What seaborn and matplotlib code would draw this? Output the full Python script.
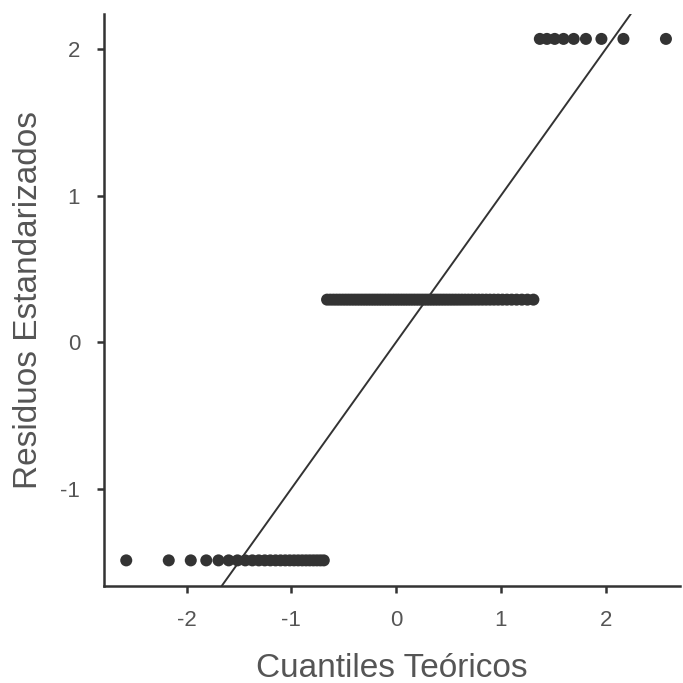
import numpy as np
import pandas as pd
import matplotlib
matplotlib.use("Agg")
import matplotlib.pyplot as plt
import seaborn as sns
from statistics import NormalDist

# Standardized residual levels and how many observations sit at each level
resid_levels = [-1.49, 0.29, 2.07]
resid_counts = [25, 66, 9]

residuals = np.sort(np.repeat(resid_levels, resid_counts))
n = len(residuals)
# theoretical normal quantiles (ppoints)
theo = [NormalDist().inv_cdf((i - 0.5) / n) for i in range(1, n + 1)]
df = pd.DataFrame({"theoretical": theo, "residuals": residuals})

x_ticks = [-2, -1, 0, 1, 2]
y_ticks = [-1, 0, 1, 2]

sns.set_theme(style="white")
plt.rcParams['font.family'] = ['Liberation Sans', 'DejaVu Sans']

fig = plt.figure(figsize=(6.83, 6.83), dpi=100)
ax = fig.add_axes([0.152, 0.142, 0.8436, 0.8375])

sns.scatterplot(data=df, x="theoretical", y="residuals", ax=ax,
                s=75, color="#333333", edgecolor="none", linewidth=0, zorder=3)
ax.axline((0, 0), slope=1, color="#333333", linewidth=1.4, zorder=2)

ax.set_xlim(-2.79, 2.71)
ax.set_ylim(-1.665, 2.24)
ax.set_xticks(x_ticks)
ax.set_yticks(y_ticks)
ax.set_xticklabels([str(t) for t in x_ticks])
ax.set_yticklabels([str(t) for t in y_ticks])

for side in ["top", "right"]:
    ax.spines[side].set_visible(False)
for side in ["left", "bottom"]:
    ax.spines[side].set_color("#333333")
    ax.spines[side].set_linewidth(1.8)

ax.tick_params(axis="both", which="both", direction="out", length=5, width=1.8,
               bottom=True, left=True,
               color="#333333", labelsize=16, labelcolor="#555555", pad=12)

ax.set_xlabel("Cuantiles Teóricos", fontsize=24, color="#555555", labelpad=16)
ax.set_ylabel("Residuos Estandarizados", fontsize=24, color="#555555", labelpad=12)

fig.savefig("out.png", dpi=100)
